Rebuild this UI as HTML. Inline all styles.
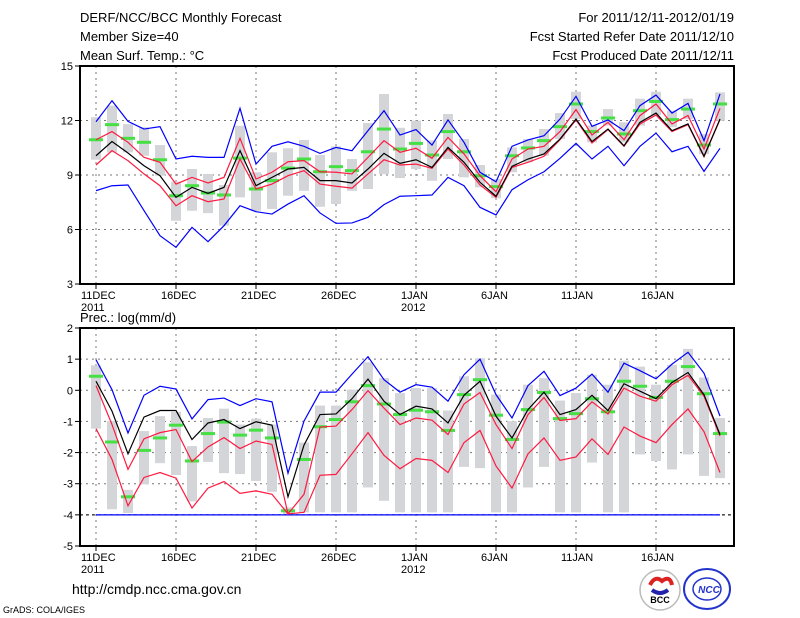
<!DOCTYPE html>
<html><head><meta charset="utf-8"><style>
html,body{margin:0;padding:0;background:#fff;}
svg{display:block;font-family:"Liberation Sans",sans-serif;}
</style></head><body>
<svg id="c" width="800" height="618" xmlns="http://www.w3.org/2000/svg">
<g font-size="13" fill="#000">
<text x="80" y="22">DERF/NCC/BCC Monthly Forecast</text>
<text x="80" y="41">Member Size=40</text>
<text x="80" y="60">Mean Surf. Temp.: °C</text>
<text x="734" y="22" text-anchor="end">For 2011/12/11-2012/01/19</text>
<text x="734" y="41" text-anchor="end">Fcst Started Refer Date 2011/12/10</text>
<text x="734" y="60" text-anchor="end">Fcst Produced Date 2011/12/11</text>
</g>
<text x="80" y="322" font-size="13">Prec.: log(mm/d)</text>
<text x="72" y="594" font-size="14">http://cmdp.ncc.cma.gov.cn</text>
<text x="3" y="613" font-size="9">GrADS: COLA/IGES</text>
<g>
<circle cx="660" cy="590" r="20" fill="#fff" stroke="#bbb" stroke-width="1.5"/>
<path d="M650 585 q5 -10 12 -4 q8 -6 10 4" fill="none" stroke="#d22" stroke-width="4"/>
<path d="M652 590 q8 6 16 0" fill="none" stroke="#22a" stroke-width="4"/>
<text x="660" y="603" font-size="9" font-weight="bold" text-anchor="middle" fill="#000">BCC</text>
</g>
<g>
<ellipse cx="707" cy="589" rx="23" ry="20" fill="#fff" stroke="#23c" stroke-width="2"/>
<ellipse cx="707" cy="589" rx="14" ry="11" fill="none" stroke="#23c" stroke-width="1.5"/>
<text x="709" y="593" font-size="10" font-weight="bold" font-style="italic" text-anchor="middle" fill="#23c">NCC</text>
</g>
<g id="top"></g>
<g id="bot"></g>
</svg>
<script>
// ---- temperature data (40 days, 11 Dec 2011 - 19 Jan 2012)
const xLabels = ["11DEC","16DEC","21DEC","26DEC","1JAN","6JAN","11JAN","16JAN"];
const xYear = ["2011","","","","2012","","",""];
const tTicks = [3,6,9,12,15];
const pTicks = [-5,-4,-3,-2,-1,0,1,2];
const tBlueHi = [11.93,13.09,11.95,11.53,11.66,9.88,10.03,9.97,9.97,12.67,9.6,10.58,10.83,10.58,10.19,10.52,10.34,11.44,12.54,11.2,11.5,10.65,12.03,10.8,9.15,8.63,10.58,10.93,11.16,12.08,13.33,11.68,12.03,11.44,12.82,13.4,12.41,12.94,10.89,13.46];
const tRedHi = [10.94,11.39,10.8,9.97,9.7,8.5,8.87,8.56,8.87,11.02,8.78,9.15,9.73,9.79,9.18,9.15,9.06,9.97,10.89,10.25,10.47,9.92,11.07,10.16,8.96,8.08,9.88,10.43,10.58,11.39,12.6,11.2,11.9,10.94,12.27,12.91,11.81,12.27,10.43,12.67];
const tMean = [10.06,10.84,10.21,9.51,8.96,7.77,8.32,7.99,8.32,10.34,8.41,8.87,9.33,9.42,8.69,8.69,8.56,9.33,10.19,9.64,9.84,9.42,10.52,9.7,8.6,7.83,9.48,9.88,10.16,10.98,12.08,10.84,11.53,10.61,11.9,12.41,11.44,11.81,10.03,12.08];
const tRedLo = [9.55,10.34,9.79,9.06,8.41,7.31,7.86,7.53,7.68,9.88,8.23,8.5,8.96,9.24,8.5,8.38,8.28,9.06,9.84,9.55,9.6,9.37,10.43,9.55,8.45,7.77,9.42,9.7,10.03,10.94,12.03,10.76,11.5,10.58,11.81,12.3,11.39,11.77,10.01,12.05];
const tBlueLo = [8.14,8.41,8.45,7.04,5.66,5.02,6.12,5.33,6.21,7.31,6.98,6.85,7.4,7.86,6.91,6.34,6.36,6.67,7.37,7.83,7.86,7.9,8.87,8.41,7.22,6.8,8.19,8.74,9.18,9.92,10.74,9.88,10.58,9.51,10.58,11.31,10.28,10.58,9.2,10.47];
const tObs = [10.94,11.77,11.02,10.8,9.84,7.86,8.41,8.01,7.9,9.93,8.23,8.69,9.38,9.88,9.18,9.46,9.24,10.28,11.53,10.43,10.74,10.1,11.39,10.28,8.96,8.36,10.06,10.49,10.89,11.66,12.91,11.39,12.14,11.26,12.54,13.05,12.05,12.63,10.65,12.91];
const tMax = [12.18,12.82,11.8,11.63,10.65,8.63,9.33,9.06,8.45,11.71,9.15,10.25,10.47,10.93,10.1,10.58,9.88,11.86,13.46,11.6,11.99,10.9,12.36,10.98,9.55,8.78,10.52,10.98,11.53,12.41,13.58,11.72,12.63,11.9,13.2,13.58,12.54,13.2,11.25,13.55];
const tMin = [9.84,10.25,10.25,10.06,8.96,6.48,7.03,6.9,6.21,7.77,7.03,7.13,7.86,8.13,7.25,7.4,8.13,8.23,9.05,8.83,9.33,8.68,9.88,8.87,8.32,7.72,9.15,9.7,10.06,10.98,12.08,10.8,11.72,10.8,11.72,12.3,11.63,12.08,10.15,11.99];
// ---- precipitation data (log mm/d)
const pBlueHi = [0.98,0.02,-1.37,-0.16,0.13,0.04,-0.92,-0.3,-0.25,-0.49,-0.27,-0.37,-2.66,-0.99,-0.06,-0.06,0.52,1.08,0.34,-0.06,0.18,0.1,-0.35,0.5,1.0,-0.14,-0.89,0.15,0.61,-0.17,0.07,0.52,-0.06,0.87,0.63,0.37,0.84,1.22,0.55,-0.83];
const pRedHi = [0.15,-1.1,-2.54,-1.56,-1.36,-1.26,-2.29,-1.82,-1.52,-1.87,-1.63,-1.74,-3.97,-3.34,-1.18,-1.15,-0.62,-0.01,-0.57,-1.1,-0.89,-0.96,-1.42,-0.44,-0.07,-1.1,-1.87,-0.78,-0.23,-0.97,-0.91,-0.37,-0.76,0.07,-0.19,-0.35,0.18,0.48,-0.19,-1.47];
const pMean = [0.29,-0.67,-2.04,-0.86,-0.65,-0.65,-1.58,-1.05,-0.94,-1.23,-1.01,-1.12,-3.42,-1.76,-0.78,-0.76,-0.27,0.36,-0.35,-0.78,-0.51,-0.6,-1.05,-0.16,0.29,-0.83,-1.53,-0.62,-0.06,-0.78,-0.62,-0.16,-0.65,0.21,-0.03,-0.27,0.25,0.57,-0.14,-1.42];
const pRedLo = [-1.23,-2.22,-3.71,-2.8,-2.64,-2.82,-3.78,-3.14,-2.93,-3.31,-3.23,-3.34,-3.97,-3.92,-2.73,-2.7,-2.04,-1.36,-2.09,-2.52,-2.19,-2.25,-2.64,-1.68,-1.29,-2.43,-3.14,-2.04,-1.53,-2.25,-2.14,-1.56,-2.06,-1.18,-1.47,-1.68,-1.1,-0.6,-1.33,-2.64];
const pBlueLo = [-4,-4,-4,-4,-4,-4,-4,-4,-4,-4,-4,-4,-4,-4,-4,-4,-4,-4,-4,-4,-4,-4,-4,-4,-4,-4,-4,-4,-4,-4,-4,-4,-4,-4,-4,-4,-4,-4,-4,-4];
const pObs = [0.45,-1.66,-3.42,-1.93,-1.53,-1.12,-2.27,-1.39,-1.02,-1.44,-1.28,-1.53,-3.87,-2.22,-1.17,-0.94,-0.37,0.15,-0.44,-0.78,-0.64,-0.69,-1.29,-0.14,0.34,-0.8,-1.58,-0.62,-0.07,-0.91,-0.75,-0.27,-0.69,0.29,0.13,-0.23,0.29,0.76,-0.11,-1.39];
const pMax = [0.8,-0.99,-3.2,-1.31,-0.83,-0.69,-1.79,-0.89,-0.59,-1.1,-0.91,-1.1,-3.76,-1.68,-0.49,-0.49,0.02,0.9,0.39,-0.09,0.07,0.07,-0.65,0.45,1.03,-0.14,-0.99,0.18,0.39,-0.33,-0.09,0.5,0.18,0.95,0.76,0.18,0.82,1.33,0.41,-0.89];
const pMin = [-1.23,-3.82,-3.94,-3.02,-2.34,-2.72,-3.57,-2.3,-2.66,-2.69,-2.91,-3.26,-3.97,-3.92,-3.92,-3.92,-3.92,-3.12,-3.55,-3.92,-3.92,-3.92,-3.92,-2.46,-2.5,-3.92,-3.92,-3.12,-2.46,-3.92,-3.92,-2.32,-3.92,-3.92,-2.06,-2.27,-2.54,-2.06,-2.75,-2.82];

const NS="http://www.w3.org/2000/svg";
const X0=80, X1=734, D0=96, DX=16;
function xs(i){return D0+DX*i;}
function mk(tag,attrs,parent){const e=document.createElementNS(NS,tag);for(const k in attrs)e.setAttribute(k,attrs[k]);parent.appendChild(e);return e;}

function panel(gid,top,bot,vmin,vmax,ticks,series,floorLine){
  const g=document.getElementById(gid);
  const ys=v=>top+(vmax-v)/(vmax-vmin)*(bot-top);
  // grid
  ticks.forEach(t=>{ if(t>vmin&&t<vmax){const l=mk('line',{x1:X0,x2:X1,y1:ys(t),y2:ys(t),stroke:'#777','stroke-dasharray':'2,4','stroke-width':1},g);
    
    }});
  xLabels.forEach((lab,k)=>{const x=xs(k*5);const l=mk('line',{x1:x,x2:x,y1:top,y2:bot,stroke:'#777','stroke-dasharray':'2,4','stroke-width':1},g);
    
    });
  if(floorLine!==undefined){const l=mk('line',{x1:X0,x2:X1,y1:ys(floorLine),y2:ys(floorLine),stroke:'#000','stroke-dasharray':'3,3'},g);
    
    }
  // whiskers
  series.max.forEach((v,i)=>{const r=mk('rect',{x:xs(i)-5,y:ys(v),width:10,height:Math.max(1,ys(series.min[i])-ys(v)),fill:'#d4d5d9'},g);
    
    });
  // obs green
  series.obs.forEach((v,i)=>{const r=mk('rect',{x:xs(i)-7,y:ys(v)-1.5,width:14,height:3,fill:'#44e044'},g);
    
    });
  const lines=[[series.blueLo,'#0000ff','lower-bound-line'],[series.blueHi,'#0000ff','upper-bound-line'],[series.redLo,'#ff1a40','lower-quartile-line'],[series.redHi,'#ff1a40','upper-quartile-line'],[series.mean,'#000','ensemble-mean-line']];
  lines.forEach(([arr,c,n])=>{const p=mk('polyline',{points:arr.map((v,i)=>xs(i)+','+ys(v)).join(' '),fill:'none',stroke:c,'stroke-width':1.2},g);
    
    });
  // frame
  const f=mk('rect',{x:X0,y:top,width:X1-X0,height:bot-top,fill:'none',stroke:'#000','stroke-width':2},g);
  
  
  ticks.forEach(t=>{const y=ys(t);mk('line',{x1:X0-5,x2:X0,y1:y,y2:y,stroke:'#000'},g);
    const tx=mk('text',{x:X0-7,y:y+4,'text-anchor':'end','font-size':11},g);tx.textContent=t;
    
    });
  xLabels.forEach((lab,k)=>{const x=xs(k*5);mk('line',{x1:x,x2:x,y1:bot,y2:bot+5,stroke:'#000'},g);
    const tx=mk('text',{x:x-15,y:bot+15,'font-size':11},g);tx.textContent=lab;
    
    
    if(xYear[k]){const ty=mk('text',{x:x-15,y:bot+27,'font-size':11},g);ty.textContent=xYear[k];
      
      }});
}
panel('top',66,284,3,15,tTicks,{blueHi:tBlueHi,redHi:tRedHi,mean:tMean,redLo:tRedLo,blueLo:tBlueLo,obs:tObs,max:tMax,min:tMin});
panel('bot',328,546,-5,2,pTicks,{blueHi:pBlueHi,redHi:pRedHi,mean:pMean,redLo:pRedLo,blueLo:pBlueLo,obs:pObs,max:pMax,min:pMin},-4);
</script>
</body></html>
